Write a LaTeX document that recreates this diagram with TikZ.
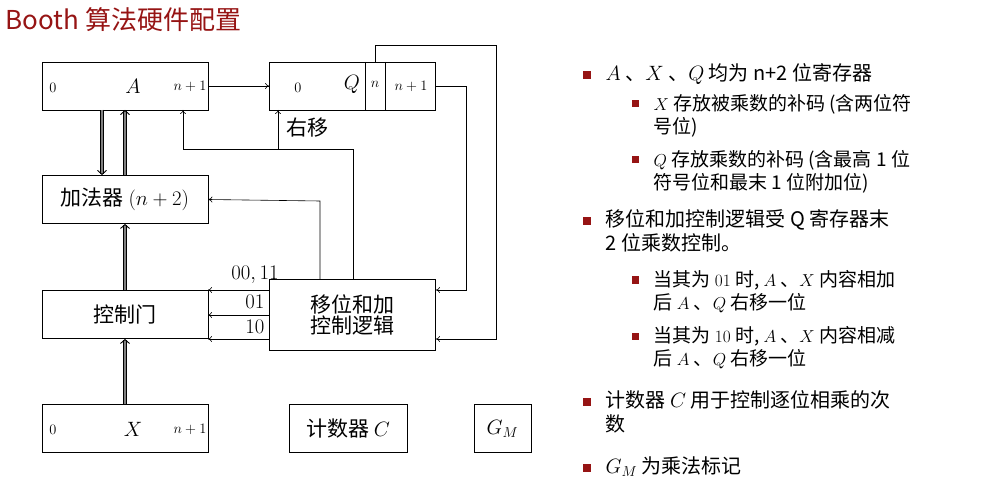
\documentclass[tikz,border=0pt]{standalone}
\usepackage{fontspec}
\setmainfont{Noto Sans CJK SC}
\usetikzlibrary{arrows.meta}
\definecolor{dred}{RGB}{150,20,20}
\newcommand{\fs}[1]{\fontsize{#1}{#1}\selectfont}
\begin{document}
\begin{tikzpicture}[x=1pt,y=-1pt,semithick,
  box/.style={draw,thick,minimum height=48pt,inner sep=0pt},
  ar/.style={-{To[length=4pt,width=6pt]}},
  dbl/.style={double=gray,double distance=2.5pt,line width=0.9pt,-{Straight Barb[length=4pt,width=9pt]}},
  lab/.style={font=\fs{21}},
  sm/.style={font=\fs{14}},
  big/.style={font=\fs{22}},
  bul/.style={font=\fontsize{20}{24}\selectfont,anchor=north west,align=left},
  sbul/.style={font=\fontsize{19}{23}\selectfont,anchor=north west,align=left}]
\useasboundingbox (0,0) rectangle (990,494);
\node[anchor=west,text=dred,font=\fs{26}] (title) at (2,20) {Booth 算法硬件配置};
% boxes
\node[box,minimum width=166pt] (A) at (125,86) {};
\node[sm] (a0) at (53,88) {$0$};
\node[big] (aA) at (133,86) {$A$};
\node[sm] (an) at (190,86) {$n+1$};
\node[box,minimum width=166pt] (Q) at (352.5,86) {};
\draw[thick] (385,62) -- (385,110) (365,62) -- (365,110);
\node[sm] (q0) at (298,88) {$0$};
\node[big] (qQ) at (352,84) {$Q$};
\node[sm] (qnl) at (375,84) {$n$};
\node[sm] (qnn) at (411,86) {$n+1$};
\node[box,minimum width=166pt,lab] (add) at (125,199.5) {加法器 $(n+2)$};
\node[box,minimum width=166pt,lab] (gate) at (125,314.5) {控制门};
\node[box,minimum width=166pt,minimum height=71pt,lab,align=center] (logic) at (352.5,314.5) {移位和加\\控制逻辑};
\node[box,minimum width=166pt] (X) at (125,428.5) {};
\node[sm] (x0) at (53,430) {$0$};
\node[big] (xX) at (133,429) {$X$};
\node[sm] (xn) at (190,429) {$n+1$};
\node[box,minimum width=118pt,lab] (cnt) at (348,428.5) {计数器 $C$};
\node[box,minimum width=57pt,lab] (gm) at (502.5,428.5) {$G_M$};
% connectors
\draw[ar] (A.east) -- (Q.west);
\draw[dbl] (102,110) -- (102,175);
\draw[dbl] (125,175) -- (125,110);
\draw[dbl] (gate.north) -- (add.south);
\draw[dbl] (X.north) -- (gate.south);
\draw[ar] (353,279) -- (353,149) -- (183,149) -- (183,110);
\draw[ar] (278,149) -- (278,110);
\node[lab,anchor=west] (ry) at (283,128) {右移};
\draw[ar] (320,279) -- (320,201) -- (add.east);
\draw[ar] (375,62) -- (375,45) -- (496,45) -- (496,339) -- (436,339);
\draw[ar] (436,86) -- (466,86) -- (466,290) -- (436,290);
\draw[ar] (269,290) -- (208,290);
\draw[ar] (269,315) -- (208,315);
\draw[ar] (269,339) -- (208,339);
\node[font=\fs{20}] (l1) at (255,275) {$00,11$};
\node[font=\fs{20}] (l2) at (255,302) {$01$};
\node[font=\fs{20}] (l3) at (255,327) {$10$};
% bullets
\tikzset{sq/.style={fill=dred,minimum size=8pt,inner sep=0pt}}
\node[sq] (b1) at (587,75) {};
\node[bul] (t1) at (602,60) {$A$ 、$X$ 、$Q$ 均为 n+2 位寄存器};
\node[sq,minimum size=7pt] (b2) at (635,104) {};
\node[sbul] (t2) at (650,91) {$X$ 存放被乘数的补码 (含两位符\\号位)};
\node[sq,minimum size=7pt] (b3) at (635,160) {};
\node[sbul] (t3) at (650,147) {$Q$ 存放乘数的补码 (含最高 1 位\\符号位和最末 1 位附加位)};
\node[sq] (b4) at (587,221) {};
\node[bul] (t4) at (602,206) {移位和加控制逻辑受 Q 寄存器末\\2 位乘数控制。};
\node[sq,minimum size=7pt] (b5) at (635,280) {};
\node[sbul] (t5) at (650,267) {当其为 $01$ 时, $A$ 、$X$ 内容相加\\后 $A$ 、$Q$ 右移一位};
\node[sq,minimum size=7pt] (b6) at (635,336) {};
\node[sbul] (t6) at (650,323) {当其为 $10$ 时, $A$ 、$X$ 内容相减\\后 $A$ 、$Q$ 右移一位};
\node[sq] (b7) at (587,402) {};
\node[bul] (t7) at (602,387) {计数器 $C$ 用于控制逐位相乘的次\\数};
\node[sq] (b8) at (587,468) {};
\node[bul] (t8) at (602,453) {$G_M$ 为乘法标记};
\end{tikzpicture}
\end{document}
